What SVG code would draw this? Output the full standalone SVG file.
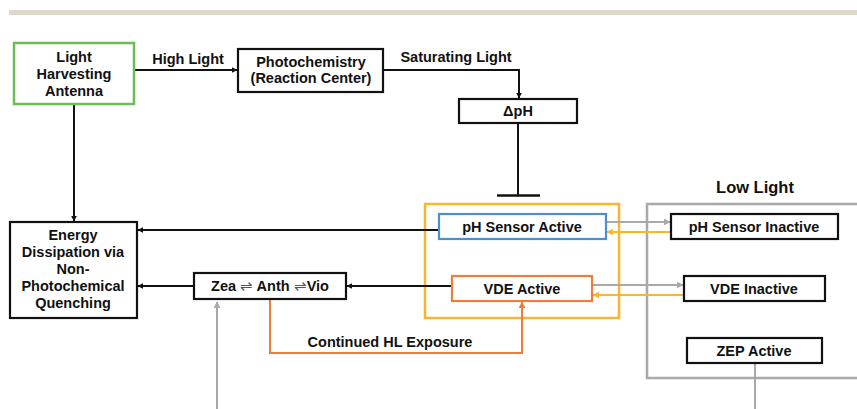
<svg xmlns="http://www.w3.org/2000/svg" width="857" height="409" viewBox="0 0 857 409">
<defs>
<marker id="ak" viewBox="0 0 10 10" refX="9" refY="5" markerWidth="6" markerHeight="6" markerUnits="userSpaceOnUse" orient="auto"><path d="M0,0 L10,5 L0,10 z" fill="#111"/></marker>
<marker id="ag" viewBox="0 0 10 10" refX="9" refY="5" markerWidth="7" markerHeight="7" markerUnits="userSpaceOnUse" orient="auto"><path d="M0,0 L10,5 L0,10 z" fill="#a8a8ad"/></marker>
<marker id="ay" viewBox="0 0 10 10" refX="9" refY="5" markerWidth="7" markerHeight="7" markerUnits="userSpaceOnUse" orient="auto"><path d="M0,0 L10,5 L0,10 z" fill="#f9b52c"/></marker>
<marker id="ao" viewBox="0 0 10 10" refX="9" refY="5" markerWidth="7" markerHeight="7" markerUnits="userSpaceOnUse" orient="auto"><path d="M0,0 L10,5 L0,10 z" fill="#ee7d3a"/></marker>
</defs>
<style>
text{font-family:"Liberation Sans",Arial,sans-serif;font-weight:bold;font-size:14.5px;fill:#111;text-anchor:middle}
.box{fill:#fff;stroke:#111;stroke-width:2.2}
.k{fill:none;stroke:#111;stroke-width:2}
.g{fill:none;stroke:#a8a8ad;stroke-width:2}
.y{fill:none;stroke:#f9b52c;stroke-width:2}
.o{fill:none;stroke:#ee7d3a;stroke-width:2}
.eq{font-weight:normal;fill:#555}
</style>
<rect x="0" y="0" width="857" height="409" fill="#fff"/>
<rect x="9" y="10" width="848" height="5" fill="#ded8c8"/>

<g id="containers">
<rect x="425" y="204" width="194" height="114" fill="none" stroke="#f9b52c" stroke-width="2.5"/>
<rect x="647" y="204" width="215" height="174" fill="none" stroke="#a8a8ad" stroke-width="2.5"/>
<text x="755" y="193" style="font-size:16.5px">Low Light</text>
</g>

<g id="connectors">
<line class="k" x1="134" y1="70" x2="237" y2="70" marker-end="url(#ak)"/>
<text x="188" y="64">High Light</text>
<polyline class="k" points="383,70 519,70 519,98" marker-end="url(#ak)"/>
<text x="456" y="62">Saturating Light</text>
<line class="k" x1="518" y1="123" x2="518" y2="195"/>
<line x1="497" y1="195.5" x2="540" y2="195.5" stroke="#111" stroke-width="2.5"/>
<line class="k" x1="74" y1="104" x2="74" y2="221" marker-end="url(#ak)"/>
<line class="k" x1="439" y1="230" x2="138" y2="230" marker-end="url(#ak)"/>
<line class="k" x1="452" y1="286" x2="347" y2="286" marker-end="url(#ak)"/>
<line class="k" x1="194" y1="286" x2="138" y2="286" marker-end="url(#ak)"/>
<line class="g" x1="606" y1="222" x2="670" y2="222" marker-end="url(#ag)"/>
<line class="y" x1="671" y1="232" x2="607" y2="232" marker-end="url(#ay)"/>
<line class="g" x1="592" y1="285" x2="683" y2="285" marker-end="url(#ag)"/>
<line class="y" x1="684" y1="295" x2="593" y2="295" marker-end="url(#ay)"/>
<polyline class="o" points="270,299 270,353 522,353 522,302" marker-end="url(#ao)"/>
<text x="390" y="347">Continued HL Exposure</text>
<line class="g" x1="217" y1="409" x2="217" y2="302" marker-end="url(#ag)"/>
<line class="g" x1="755" y1="363" x2="755" y2="409"/>
</g>

<g id="antenna">
<rect x="14" y="43" width="120" height="61" fill="#fff" stroke="#6cbd55" stroke-width="2.5"/>
<text x="74" y="62">Light</text>
<text x="74" y="79">Harvesting</text>
<text x="74" y="96">Antenna</text>
</g>
<g id="photochem">
<rect class="box" x="238" y="49" width="145" height="43"/>
<text x="311" y="67">Photochemistry</text>
<text x="311" y="83">(Reaction Center)</text>
</g>
<g id="dph">
<rect class="box" x="459" y="99" width="118" height="24"/>
<text x="518" y="116">ΔpH</text>
</g>
<g id="energy">
<rect class="box" x="10" y="222" width="127" height="96"/>
<text x="73" y="240">Energy</text>
<text x="73" y="257">Dissipation via</text>
<text x="73" y="274">Non-</text>
<text x="73" y="291">Photochemical</text>
<text x="73" y="308">Quenching</text>
</g>
<g id="zea">
<rect class="box" x="194" y="273" width="152" height="26"/>
<text x="270" y="291">Zea <tspan class="eq">⇌</tspan> Anth <tspan class="eq">⇌</tspan>Vio</text>
</g>
<g id="phsa">
<rect x="439" y="214" width="167" height="25" fill="#fff" stroke="#4a8fd0" stroke-width="2.2"/>
<text x="522" y="232">pH Sensor Active</text>
</g>
<g id="vdea">
<rect x="452" y="276" width="140" height="25" fill="#fff" stroke="#ee7d3a" stroke-width="2.2"/>
<text x="522" y="294">VDE Active</text>
</g>
<g id="phsi">
<rect class="box" x="671" y="214" width="167" height="25"/>
<text x="754" y="232">pH Sensor Inactive</text>
</g>
<g id="vdei">
<rect class="box" x="684" y="276" width="141" height="25"/>
<text x="754" y="294">VDE Inactive</text>
</g>
<g id="zep">
<rect class="box" x="687" y="338" width="135" height="25"/>
<text x="754" y="356">ZEP Active</text>
</g>
</svg>
